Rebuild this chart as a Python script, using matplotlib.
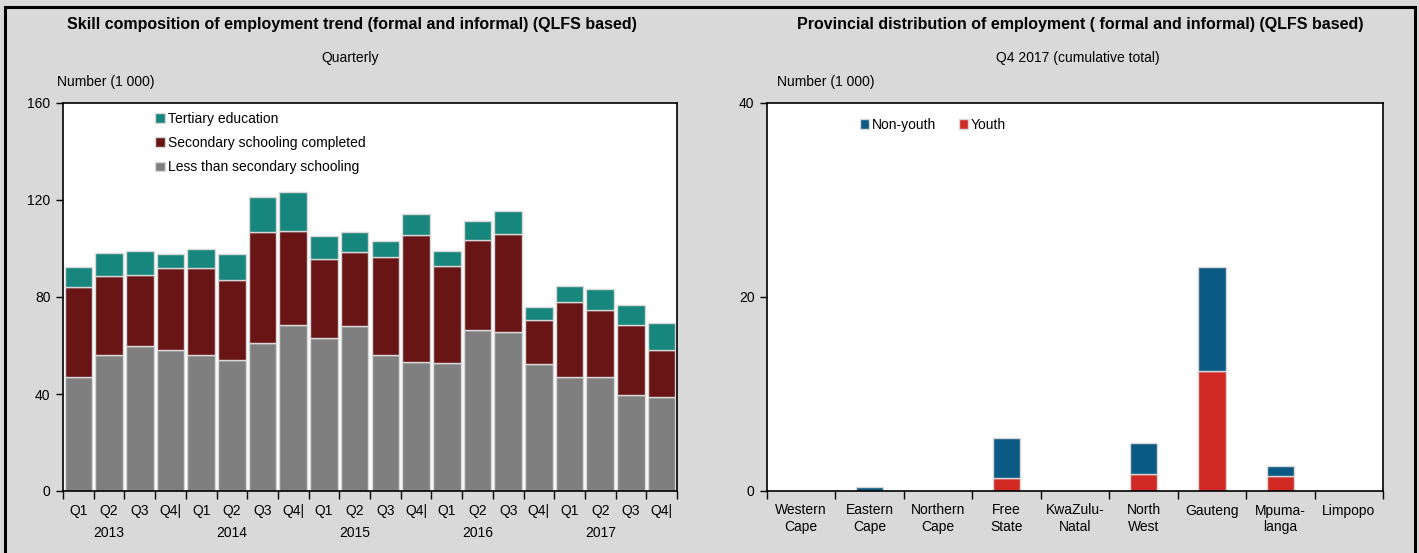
import matplotlib.pyplot as plt
from matplotlib.patches import Rectangle
from matplotlib.transforms import blended_transform_factory
import numpy as np

plt.rcParams['font.family'] = ['Liberation Sans Narrow', 'Liberation Sans', 'DejaVu Sans']

# left chart: skill composition, quarterly (thousands)
quarters = ['Q1', 'Q2', 'Q3', 'Q4|'] * 5
years = ['2013', '2014', '2015', '2016', '2017']
less_secondary = [47, 56, 60, 58, 56, 54, 61, 68.5, 63, 68, 56, 53, 52.6, 66.5, 65.4, 52.4, 47.2, 47, 39.4, 38.7]
secondary_top = [84, 88.5, 89, 92, 92, 87.2, 106.7, 107.1, 95.5, 98.5, 96.4, 105.4, 92.7, 103.7, 106.1, 70.4, 77.9, 74.8, 68.5, 58.3]
total_top = [92.3, 98, 98.9, 97.8, 99.6, 97.8, 121.2, 123.1, 105.3, 106.7, 103, 114.3, 99.1, 111.2, 115.6, 76, 84.6, 83.4, 76.6, 69.2]
secondary = [s - l for s, l in zip(secondary_top, less_secondary)]
tertiary = [t - s for t, s in zip(total_top, secondary_top)]

# right chart: provincial distribution, Q4 2017 (thousands)
provinces = ['Western\nCape', 'Eastern\nCape', 'Northern\nCape', 'Free\nState', 'KwaZulu-\nNatal',
             'North\nWest', 'Gauteng', 'Mpuma-\nlanga', 'Limpopo']
youth = [0, 0, 0, 1.3, 0, 1.75, 12.35, 1.5, 0]
non_youth = [0, 0.45, 0, 4.2, 0, 3.25, 10.75, 1.1, 0]

grey_c, maroon_c, teal_c = '#7f7f7f', '#6a1515', '#17877d'
blue_c, red_c = '#0b5a84', '#d12a24'
edge_c = '#d8d8d8'

fig = plt.figure(figsize=(14.19, 5.53), dpi=100, facecolor='#d9d9d9')
fig.patches.append(Rectangle((5/1419, -0.05), 1410/1419, 1.05 - 7/553, transform=fig.transFigure,
                             fill=False, edgecolor='black', lw=2.2))

def style_axes(ax, n, ymax, step):
    ax.set_xlim(-0.5, n - 0.5)
    ax.set_ylim(0, ymax)
    ax.set_yticks(np.arange(0, ymax + 1, step))
    ax.set_xticks(np.arange(n + 1) - 0.5)
    ax.set_xticklabels([])
    ax.tick_params(axis='x', which='major', direction='out', length=6, width=1)
    ax.tick_params(axis='y', direction='out', length=5, width=1, labelsize=10, pad=4)
    for sp in ax.spines.values():
        sp.set_linewidth(1.2)

# LEFT
ax1 = fig.add_axes([63/1419, 1 - 491/553, 614/1419, 388/553])
x = np.arange(len(quarters))
b1 = ax1.bar(x, less_secondary, 0.9, color=grey_c, edgecolor=edge_c, lw=1, label='Less than secondary schooling')
b2 = ax1.bar(x, secondary, 0.9, bottom=less_secondary, color=maroon_c, edgecolor=edge_c, lw=1, label='Secondary schooling completed')
b3 = ax1.bar(x, tertiary, 0.9, bottom=secondary_top, color=teal_c, edgecolor=edge_c, lw=1, label='Tertiary education')
style_axes(ax1, len(quarters), 160, 40)
ax1.set_xticks(x, minor=True)
ax1.set_xticklabels(quarters, minor=True)
ax1.tick_params(axis='x', which='minor', length=0, labelsize=10, pad=9)
tr = blended_transform_factory(ax1.transData, ax1.transAxes)
for i, yr in enumerate(years):
    ax1.text(4 * i + 1, -0.09, yr, transform=tr, ha='center', va='top', fontsize=10)
ax1.legend([b3, b2, b1], [b3.get_label(), b2.get_label(), b1.get_label()], loc='upper left',
           bbox_to_anchor=(0.13, 1.01), frameon=False, fontsize=10, handlelength=0.7, handleheight=0.7,
           handletextpad=0.2, labelspacing=0.75)
fig.text(352/1419, 1 - 25/553, 'Skill composition of employment trend (formal and informal) (QLFS based)',
         ha='center', va='center', fontsize=11.5, fontweight='bold')
fig.text(350/1419, 1 - 58/553, 'Quarterly', ha='center', va='center', fontsize=10)
fig.text(57/1419, 1 - 82/553, 'Number (1 000)', ha='left', va='center', fontsize=10)

# RIGHT
ax2 = fig.add_axes([767/1419, 1 - 491/553, 616/1419, 388/553])
xp = np.arange(len(provinces))
c1 = ax2.bar(xp, youth, 0.4, color=red_c, edgecolor=edge_c, lw=1, label='Youth')
c2 = ax2.bar(xp, non_youth, 0.4, bottom=youth, color=blue_c, edgecolor=edge_c, lw=1, label='Non-youth')
style_axes(ax2, len(provinces), 40, 20)
ax2.set_xticks(xp, minor=True)
ax2.set_xticklabels(provinces, minor=True)
ax2.tick_params(axis='x', which='minor', length=0, labelsize=10, pad=9)
ax2.legend([c2, c1], ['Non-youth', 'Youth'], loc='upper left', ncol=2, bbox_to_anchor=(0.13, 0.993),
           frameon=False, fontsize=10, handlelength=0.7, handleheight=0.7, handletextpad=0.2, columnspacing=1.6)
fig.text(1080/1419, 1 - 25/553, 'Provincial distribution of employment ( formal and informal) (QLFS based)',
         ha='center', va='center', fontsize=11.5, fontweight='bold')
fig.text(1078/1419, 1 - 58/553, 'Q4 2017 (cumulative total)', ha='center', va='center', fontsize=10)
fig.text(777/1419, 1 - 82/553, 'Number (1 000)', ha='left', va='center', fontsize=10)

fig.savefig('out.png', dpi=100, facecolor=fig.get_facecolor())
